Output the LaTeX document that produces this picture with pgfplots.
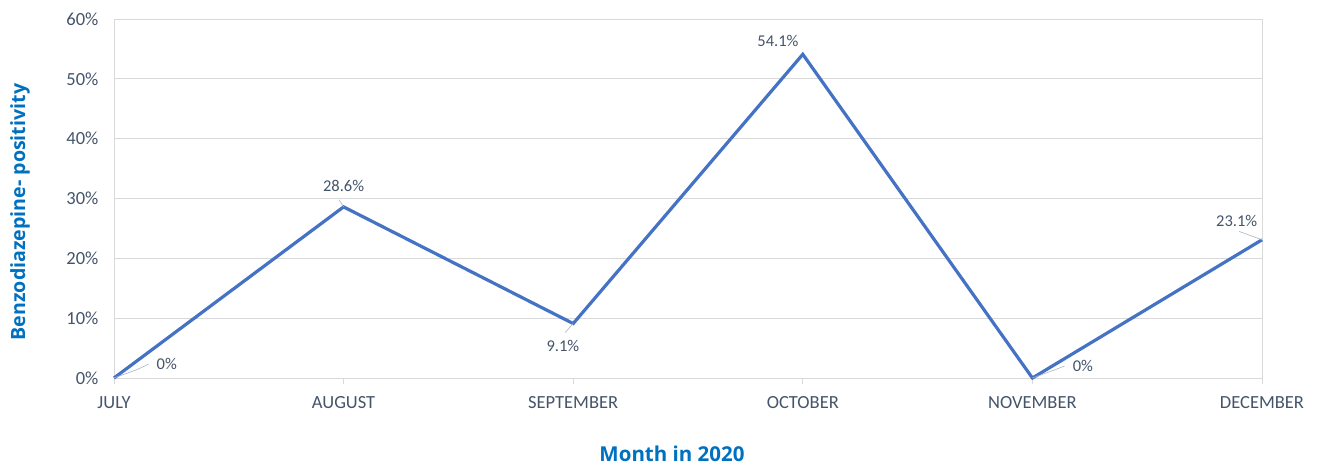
\documentclass[border=0pt]{standalone}
\usepackage{pgfplots}
\pgfplotsset{compat=1.18}
\usepackage{fontspec}
\setmainfont{Carlito}
\newfontfamily\ttlfont{Open Sans}
\definecolor{linec}{RGB}{68,114,196}
\definecolor{txt}{RGB}{68,84,106}
\definecolor{ttl}{RGB}{0,112,192}
\definecolor{gridc}{RGB}{217,217,217}
\definecolor{leader}{RGB}{166,180,200}
\begin{document}
\begin{tikzpicture}[x=1pt,y=1pt]
\useasboundingbox (0,0) rectangle (1320,464);
\begin{axis}[
  at={(114pt,86pt)}, anchor=south west,
  scale only axis, width=1148pt, height=359pt,
  xmin=0, xmax=5, ymin=0, ymax=60,
  clip=false,
  xtick={0,1,2,3,4,5},
  xticklabels={JULY,AUGUST,SEPTEMBER,OCTOBER,NOVEMBER,DECEMBER},
  ytick={0,10,20,30,40,50,60},
  yticklabels={0\%,10\%,20\%,30\%,40\%,50\%,60\%},
  xtick pos=left, tick align=outside,
  major tick length=6pt,
  ytick style={draw=none},
  xtick style={draw=gridc, line width=1pt},
  ymajorgrids, grid style={draw=gridc, line width=0.8pt},
  axis line style={draw=gridc, line width=0.8pt},
  ticklabel style={font=\fontsize{18.5}{20}\selectfont, text=txt},
  xticklabel style={yshift=-9pt},
  yticklabel style={xshift=-6pt},
]
\addplot[color=linec, line width=3.2pt, line join=miter, mark=none]
  coordinates {(0,0) (1,28.6) (2,9.1) (3,54.1) (4,0) (5,23.1)};
% leader lines
\draw[leader, line width=0.6pt] (axis cs:0,0) -- (axis cs:0.10,1.4) -- (axis cs:0.15,2.3);
\draw[leader, line width=0.6pt] (axis cs:1,28.6) -- (axis cs:0.98,29.8);
\draw[leader, line width=0.6pt] (axis cs:2,9.1) -- (axis cs:1.965,7.6);
\draw[leader, line width=0.6pt] (axis cs:4,0) -- (axis cs:4.10,1.4) -- (axis cs:4.14,2.0);
\draw[leader, line width=0.6pt] (axis cs:5,23.1) -- (axis cs:4.90,24.5);
% data labels
\begin{scope}[every node/.style={font=\fontsize{16.5}{18}\selectfont, text=txt, inner sep=0pt}]
\node at (axis cs:0.23,2.3) {0\%};
\node at (axis cs:1,32.1) {28.6\%};
\node at (axis cs:1.955,5.4) {9.1\%};
\node at (axis cs:2.892,56.3) {54.1\%};
\node at (axis cs:4.22,2.0) {0\%};
\node at (axis cs:4.89,26.2) {23.1\%};
\end{scope}
\end{axis}
\node[font=\ttlfont\fontsize{20.5}{22}\selectfont\bfseries, text=ttl, inner sep=0pt] at (672,10.5) {Month in 2020};
\node[font=\ttlfont\fontsize{19.6}{22}\selectfont\bfseries, text=ttl, rotate=90, inner sep=0pt] at (20,252) {Benzodiazepine- positivity};
\end{tikzpicture}
\end{document}
